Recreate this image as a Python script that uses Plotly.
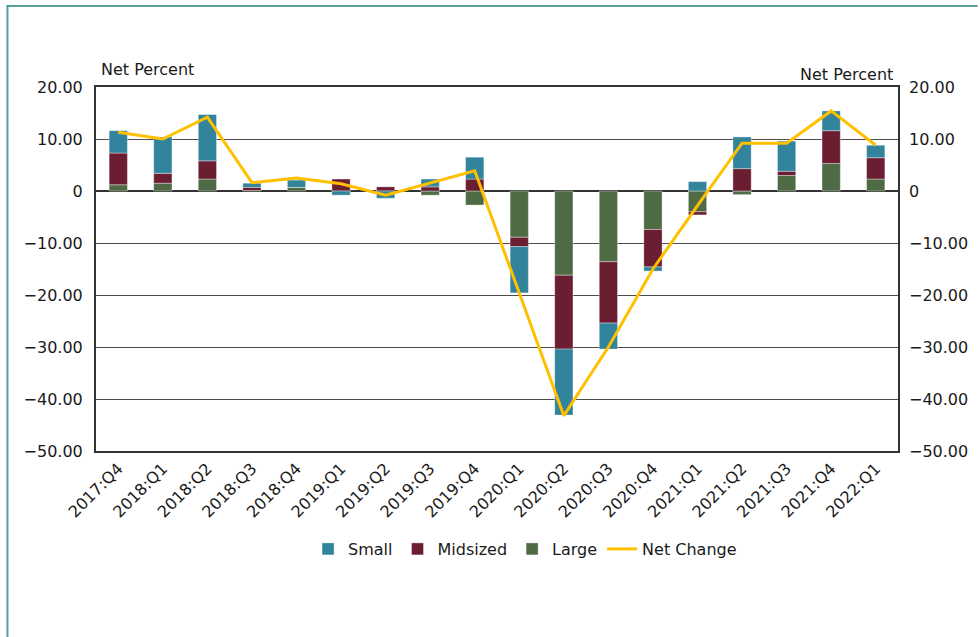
import plotly.graph_objects as go

quarters = ["2017:Q4", "2018:Q1", "2018:Q2", "2018:Q3", "2018:Q4", "2019:Q1", "2019:Q2",
            "2019:Q3", "2019:Q4", "2020:Q1", "2020:Q2", "2020:Q3", "2020:Q4", "2021:Q1",
            "2021:Q2", "2021:Q3", "2021:Q4", "2022:Q1"]
large = [1.2, 1.5, 2.3, 0.1, 0.7, 0.0, 0.0, -0.8, -2.7, -8.9, -16.2, -13.6, -7.4, -4.0,
         -0.7, 3.0, 5.3, 2.3]
midsized = [6.1, 1.9, 3.5, 0.6, 0.0, 2.3, 0.8, 0.8, 2.3, -1.8, -14.2, -11.8, -7.2, -0.6,
            4.3, 0.8, 6.3, 4.1]
small = [4.3, 7.0, 8.9, 0.8, 1.4, -0.8, -1.4, 1.5, 4.2, -8.9, -12.7, -5.0, -0.8, 1.8,
         6.1, 5.8, 3.8, 2.4]
net_change = [11.3, 10.0, 14.2, 1.6, 2.5, 1.4, -0.8, 1.5, 3.9, -19.6, -43.2, -30.0, -15.0,
              -2.8, 9.2, 9.2, 15.4, 8.8]

y_ticks = [20, 10, 0, -10, -20, -30, -40, -50]
y_tick_text = ["20.00", "10.00", "0", "\u221210.00", "\u221220.00", "\u221230.00",
               "\u221240.00", "\u221250.00"]

C_SMALL = "#31849B"
C_MID = "#6B1D32"
C_LARGE = "#4E6B45"
C_NET = "#FFC000"
FONT = "DejaVu Sans"

fig = go.Figure()
bar_line = dict(color="rgba(255,255,255,0.6)", width=0.6)
fig.add_trace(go.Bar(x=quarters, y=large, name="Large", marker=dict(color=C_LARGE, line=bar_line),
                     legendrank=3))
fig.add_trace(go.Bar(x=quarters, y=midsized, name="Midsized", marker=dict(color=C_MID, line=bar_line),
                     legendrank=2))
fig.add_trace(go.Bar(x=quarters, y=small, name="Small", marker=dict(color=C_SMALL, line=bar_line),
                     legendrank=1))
fig.add_trace(go.Scatter(x=quarters, y=net_change, name="Net Change", mode="lines",
                         line=dict(color=C_NET, width=3), yaxis="y2", legendrank=4))

W, H = 980, 637
L, R, T, B = 96, 78, 87, 186
pw, ph = W - L - R, H - T - B


def px_x(p):
    return (p - L) / pw


def px_y(p):
    return (H - B - p) / ph


fig.update_layout(
    width=W, height=H,
    margin=dict(l=L, r=R, t=T, b=B),
    paper_bgcolor="white", plot_bgcolor="white",
    barmode="relative", bargap=0.59,
    font=dict(family=FONT, size=16, color="#1a1a1a"),
    showlegend=True,
    legend=dict(orientation="h", x=0.535, xanchor="center", y=px_y(549), yanchor="middle",
                font=dict(family=FONT, size=16, color="#1a1a1a"), itemwidth=30,
                tracegroupgap=0),
    xaxis=dict(type="category", tickangle=-45, showgrid=False, showline=True, mirror=True,
               linecolor="#333333", linewidth=2, ticks="", tickfont=dict(size=16)),
    yaxis=dict(range=[-50, 20], tickvals=y_ticks, ticktext=y_tick_text, showgrid=True,
               gridcolor="#4d4d4d", gridwidth=1, zeroline=True, zerolinecolor="#333333",
               zerolinewidth=1.5, showline=True, mirror=True, linecolor="#333333", linewidth=2,
               ticks="", ticklabelstandoff=8),
    yaxis2=dict(range=[-50, 20], tickvals=y_ticks, ticktext=y_tick_text, overlaying="y",
                side="right", showgrid=False, zeroline=False, showline=False, ticks="",
                ticklabelstandoff=10),
    annotations=[
        dict(text="Net Percent", xref="paper", yref="paper", x=px_x(99), y=px_y(70),
             xanchor="left", yanchor="middle", showarrow=False, font=dict(size=16)),
        dict(text="Net Percent", xref="paper", yref="paper", x=px_x(899), y=px_y(75),
             xanchor="right", yanchor="middle", showarrow=False, font=dict(size=16)),
    ],
    shapes=[
        dict(type="line", xref="paper", yref="paper", x0=px_x(6), x1=px_x(982), y0=px_y(6),
             y1=px_y(6), line=dict(color="#5B9E9C", width=2)),
        dict(type="line", xref="paper", yref="paper", x0=px_x(7), x1=px_x(7), y0=px_y(6),
             y1=px_y(640), line=dict(color="#5B9E9C", width=2)),
    ],
)

fig.write_html("out.html", config={"displayModeBar": False},
               post_script="document.body.style.margin='0';document.body.style.overflow='hidden';")
